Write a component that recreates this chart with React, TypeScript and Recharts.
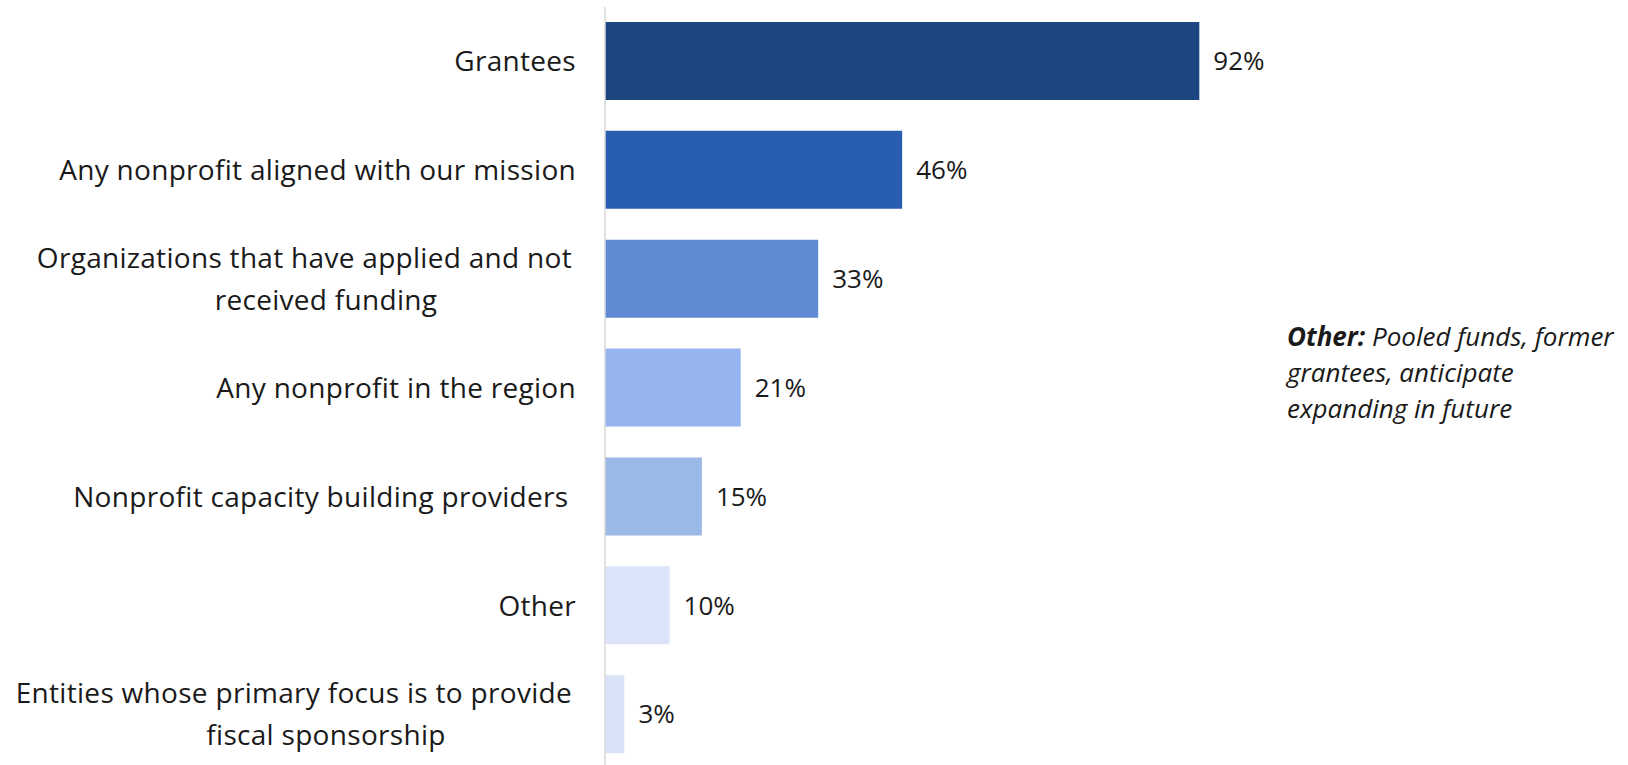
// Horizontal bar chart: who the funder supports (share of respondents).

import { BarChart, Bar, XAxis, YAxis, Cell, LabelList } from 'recharts';

const categories = [
  'Grantees',
  'Any nonprofit aligned with our mission',
  'Organizations that have applied and not|received funding',
  'Any nonprofit in the region',
  'Nonprofit capacity building providers ',
  'Other',
  'Entities whose primary focus is to provide|fiscal sponsorship',
];
const values = [92, 46, 33, 21, 15, 10, 3];
const barColors = ['#1d4580', '#285db0', '#5f8bd2', '#95b4f0', '#9bb9e6', '#dbe4f8', '#d9e2f7'];

const noteLead = 'Other:';
const noteLines = [' Pooled funds, former', 'grantees, anticipate', 'expanding in future'];

const FONT = '"Open Sans", sans-serif';
const TEXT = '#1a1a1a';
const TICK_SIZE = 28;
const TICK_SPACING = 0.3;
const LABEL_BOX = 500; // largeur de la zone de libellé (texte centré dedans)

const data = categories.map((name, i) => ({ name, value: values[i] }));

// Mesure de texte pour placer les libellés sur deux lignes.
let ctx: CanvasRenderingContext2D | null = null;
function textWidth(s: string, size: number) {
  if (!ctx) ctx = document.createElement('canvas').getContext('2d');
  if (!ctx) return s.length * size * 0.5;
  ctx.font = `${size}px ${FONT}`;
  return ctx.measureText(s).width + s.length * TICK_SPACING;
}

function CategoryTick(props: any) {
  const { x, y, payload } = props;
  const lines: string[] = String(payload.value).split('|');
  const style = { whiteSpace: 'pre' as const, letterSpacing: TICK_SPACING };
  if (lines.length === 1) {
    return (
      <text x={x} y={y} dy="0.35em" textAnchor="end" fontSize={TICK_SIZE} fill={TEXT}
        fontFamily={FONT} style={style}>
        {lines[0]}
      </text>
    );
  }
  return (
    <g>
      {lines.map((l, i) => {
        const wide = textWidth(l, TICK_SIZE) > LABEL_BOX;
        return (
          <text
            key={i}
            x={wide ? x - 4 : x - LABEL_BOX / 2}
            y={y + (i - (lines.length - 1) / 2) * 42}
            dy="0.35em"
            textAnchor={wide ? 'end' : 'middle'}
            fontSize={TICK_SIZE}
            fill={TEXT}
            fontFamily={FONT}
            style={style}
          >
            {l}
          </text>
        );
      })}
    </g>
  );
}

export default function App() {
  return (
    <div style={{ position: 'absolute', left: 0, top: 0, width: 1628, height: 765, overflow: 'hidden', background: '#fff' }}>
      <BarChart
        width={1628}
        height={770}
        data={data}
        layout="vertical"
        margin={{ top: 7, right: 377, left: 0, bottom: 1 }}
      >
        <XAxis type="number" domain={[0, 100]} hide />
        <YAxis
          type="category"
          dataKey="name"
          width={605}
          axisLine={{ stroke: '#d9d9d9', strokeWidth: 1.5 }}
          tickLine={false}
          tickSize={0}
          tickMargin={29}
          tick={<CategoryTick />}
          interval={0}
        />
        <Bar dataKey="value" barSize={78} isAnimationActive={false}>
          {data.map((d, i) => (
            <Cell key={d.name} fill={barColors[i]} />
          ))}
          <LabelList
            dataKey="value"
            position="right"
            offset={14}
            formatter={(v: any) => `${v}%`}
            style={{ fontSize: 26, fill: TEXT, fontFamily: FONT }}
          />
        </Bar>
      </BarChart>
      <div
        style={{
          position: 'absolute',
          left: 1287,
          top: 318,
          fontFamily: FONT,
          fontSize: 26,
          lineHeight: '36px',
          fontStyle: 'italic',
          color: TEXT,
          whiteSpace: 'pre',
        }}
      >
        <div>
          <b>{noteLead}</b>
          {noteLines[0]}
        </div>
        <div>{noteLines[1]}</div>
        <div>{noteLines[2]}</div>
      </div>
    </div>
  );
}
